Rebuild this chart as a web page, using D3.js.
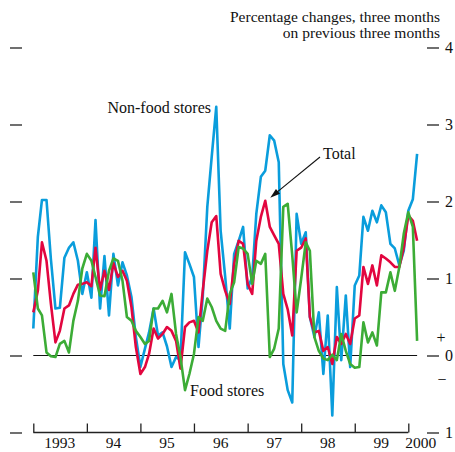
<!DOCTYPE html>
<html>
<head>
<meta charset="utf-8">
<script src="https://cdn.jsdelivr.net/npm/d3@7"></script>
<style>
  html, body { margin: 0; padding: 0; background: #fff; }
  svg { display: block; }
  text { font-family: "Liberation Serif", "Times New Roman", serif; fill: #111; }
</style>
</head>
<body>
<svg id="chart" width="455" height="452"></svg>
<script>
// ---- Data (monthly, Jan 1993 – Mar 2000) ----
const startMonth = new Date(1993, 0, 1);
const endMonth = new Date(2000, 3, 1); // exclusive
const months = d3.timeMonth.range(startMonth, endMonth);

const nonFood = [
  0.35, 1.54, 2.02, 2.02, 1.25, 0.61, 0.62, 1.27, 1.40, 1.47, 1.23, 0.80,
  1.08, 0.75, 1.76, 0.61, 1.29, 0.52, 1.32, 0.91, 1.21, 1.04, 0.76, 0.24,
  -0.15, 0.09, 0.30, 0.61, 0.26, 0.30, 0.12, -0.15, -0.02, -0.06, 1.34, 1.19,
  1.02, 0.11, 0.76, 1.93, 2.58, 3.23, 1.62, 1.02, 0.35, 1.32, 1.49, 1.67,
  0.87, 1.02, 1.84, 2.32, 2.40, 2.86, 2.79, 2.51, -0.11, -0.45, -0.61, 1.84,
  1.45, 1.60, 0.50, 0.24, 0.56, -0.24, 0.52, -0.78, 0.89, -0.06, 0.78, -0.15,
  0.91, 1.04, 1.80, 1.62, 1.88, 1.73, 1.95, 1.86, 1.45, 1.39, 1.17, 1.36,
  1.88, 2.03, 2.62
];
const total = [
  0.56, 0.84, 1.47, 1.23, 0.67, 0.17, 0.32, 0.61, 0.65, 0.80, 0.92, 0.93,
  0.95, 0.90, 1.40, 0.85, 1.10, 0.85, 1.20, 1.02, 1.10, 0.97, 0.63, 0.11,
  -0.24, -0.15, 0.02, 0.35, 0.22, 0.28, 0.37, 0.32, 0.19, -0.17, 0.37, 0.43,
  0.45, 0.30, 0.84, 1.36, 1.73, 1.81, 1.06, 0.84, 0.67, 1.19, 1.49, 1.45,
  0.93, 0.80, 1.49, 1.80, 2.01, 1.67, 1.56, 1.45, 0.80, 0.60, 0.26, 1.36,
  1.40, 1.52, 0.50, 0.30, 0.32, 0.06, 0.11, -0.11, 0.24, 0.15, 0.28, 0.15,
  0.48, 0.52, 1.15, 0.93, 1.17, 0.91, 1.30, 1.26, 1.21, 1.15, 1.15, 1.40,
  1.82, 1.75, 1.49
];
const food = [
  1.08, 0.61, 0.52, 0.04, -0.01, -0.02, 0.15, 0.19, 0.04, 0.45, 0.71, 1.13,
  1.32, 1.23, 1.02, 0.78, 0.77, 1.10, 1.26, 1.23, 0.97, 0.50, 0.45, 0.32,
  0.24, 0.15, 0.19, 0.61, 0.61, 0.71, 0.56, 0.80, 0.28, -0.02, -0.45, -0.24,
  0.02, 0.50, 0.45, 0.74, 0.63, 0.45, 0.35, 0.32, 0.80, 0.95, 1.41, 1.39,
  1.32, 0.93, 1.23, 1.19, 1.32, -0.02, 0.09, 0.35, 1.93, 1.97, 1.30, 0.56,
  1.00, 1.47, 1.36, 0.24, 0.06, -0.04, -0.06, 0.01, -0.06, 0.28, 0.06, -0.11,
  -0.16, -0.15, 0.43, 0.17, 0.30, 0.13, 0.82, 0.82, 1.08, 0.84, 1.15, 1.58,
  1.86, 1.67, 0.19
];

const yearTicks = [1993, 1994, 1995, 1996, 1997, 1998, 1999, 2000];
const yearLabels = ["1993", "94", "95", "96", "97", "98", "99", "2000"];
const yTicks = [-1, 0, 1, 2, 3, 4];
const yTickLabels = ["1", "0", "1", "2", "3", "4"];
const titleLines = ["Percentage changes, three months", "on previous three months"];

// ---- Scales ----
const svg = d3.select("#chart");
const x = d3.scaleTime()
  .domain([new Date(1993, 0, 1), new Date(2000, 0, 1)])
  .range([33.3, 408.3]);
const y = d3.scaleLinear().domain([-1, 4]).range([432.5, 47.5]);

const colors = { nonFood: "#0a9ddc", total: "#e2063f", food: "#3cac36" };

// ---- Axes ----
// left ticks (marks only)
const leftAxis = d3.axisLeft(y).tickValues(yTicks).tickSize(12).tickFormat("");
svg.append("g").attr("transform", "translate(22,0)").call(leftAxis)
  .call(g => g.select(".domain").remove())
  .call(g => g.selectAll("line").attr("stroke", "#222").attr("stroke-width", 1.3));

// right ticks with labels
const rightAxis = d3.axisRight(y).tickValues(yTicks).tickSize(12).tickPadding(6)
  .tickFormat((d, i) => yTickLabels[i]);
svg.append("g").attr("transform", "translate(427,0)").call(rightAxis)
  .call(g => g.select(".domain").remove())
  .call(g => g.selectAll("line").attr("stroke", "#222").attr("stroke-width", 1.3))
  .call(g => g.selectAll("text")
    .attr("font-family", "Liberation Serif, serif")
    .attr("font-size", 16).attr("fill", "#111"));

// + / − signs near zero
svg.append("text").attr("x", 441).attr("y", y(0) - 13)
  .attr("text-anchor", "middle").attr("font-size", 16).text("+");
svg.append("text").attr("x", 442).attr("y", y(0) + 29)
  .attr("text-anchor", "middle").attr("font-size", 16).text("\u2212");

// bottom axis (at -1)
const bottomAxis = d3.axisTop(x)
  .tickValues(yearTicks.map(yr => new Date(yr, 0, 1)))
  .tickSize(9).tickFormat("");
svg.append("g").attr("transform", `translate(0,${y(-1)})`).call(bottomAxis)
  .call(g => g.select(".domain").attr("d", `M${x.range()[0]},0H${x.range()[1]}`)
    .attr("stroke", "#222").attr("stroke-width", 1.3))
  .call(g => g.selectAll("line").attr("stroke", "#222").attr("stroke-width", 1.3));

// year labels (mid-year; last one squeezed in)
svg.append("g").selectAll("text").data(yearLabels).join("text")
  .attr("x", (d, i) => i < yearLabels.length - 1
    ? x(new Date(yearTicks[i], 6, 1))
    : x(new Date(yearTicks[i], 2, 26)))
  .attr("y", 448)
  .attr("text-anchor", "middle")
  .attr("font-size", 15.5)
  .text(d => d);

// zero line
svg.append("line")
  .attr("x1", x(months[0])).attr("x2", x(months[months.length - 1]))
  .attr("y1", y(0)).attr("y2", y(0))
  .attr("stroke", "#111").attr("stroke-width", 1.2);

// ---- Series ----
const line = d3.line().x((d, i) => x(months[i])).y(d => y(d));
[["nonFood", nonFood], ["total", total], ["food", food]].forEach(([k, arr]) => {
  svg.append("path").datum(arr)
    .attr("d", line)
    .attr("fill", "none")
    .attr("stroke", colors[k])
    .attr("stroke-width", 2.6)
    .attr("stroke-linejoin", "round");
});

// ---- Title (top right) ----
svg.append("g").selectAll("text").data(titleLines).join("text")
  .attr("x", 440).attr("y", (d, i) => 22 + i * 16)
  .attr("text-anchor", "end").attr("font-size", 15.5)
  .text(d => d);

// ---- Annotations ----
svg.append("text").attr("x", 211).attr("y", 113)
  .attr("text-anchor", "end").attr("font-size", 16).text("Non-food stores");
svg.append("text").attr("x", 190).attr("y", 396)
  .attr("font-size", 16).text("Food stores");
svg.append("text").attr("x", 323).attr("y", 159)
  .attr("font-size", 16).text("Total");

// arrow to the Total peak
const peakIdx = total.indexOf(d3.max(total));
const tipX = x(months[peakIdx]) + 5, tipY = y(total[peakIdx]) - 3;
const sx = 320, sy = 157;
const ang = Math.atan2(tipY - sy, tipX - sx);
const L = 10, W = 3.2;
svg.append("line")
  .attr("x1", sx).attr("y1", sy)
  .attr("x2", tipX - Math.cos(ang) * L * 0.8).attr("y2", tipY - Math.sin(ang) * L * 0.8)
  .attr("stroke", "#111").attr("stroke-width", 1.1);
const bx = tipX - Math.cos(ang) * L, by = tipY - Math.sin(ang) * L;
svg.append("path")
  .attr("d", `M${tipX},${tipY}L${bx + Math.sin(ang) * W},${by - Math.cos(ang) * W}L${bx - Math.sin(ang) * W},${by + Math.cos(ang) * W}Z`)
  .attr("fill", "#111");
</script>
</body>
</html>
